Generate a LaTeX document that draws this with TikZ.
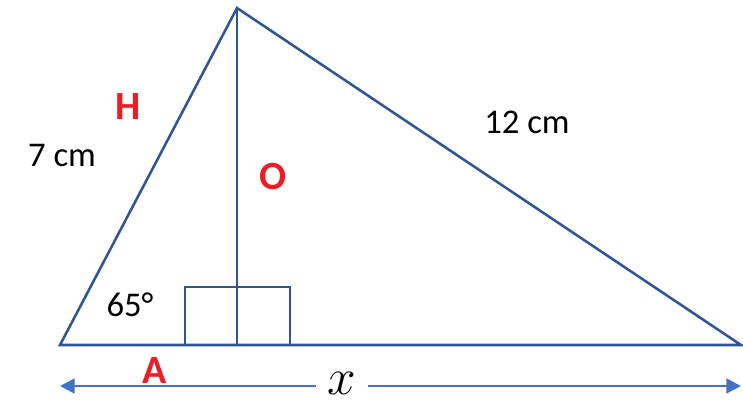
\documentclass[tikz,border=0pt]{standalone}
\usepackage{fontspec}
\setmainfont{Carlito}
\usetikzlibrary{arrows.meta}
\definecolor{edgeblue}{HTML}{2F5597}
\definecolor{arrowblue}{HTML}{4472C4}
\definecolor{labelred}{HTML}{EE1C25}
\tikzset{
  side/.style={draw=edgeblue,line width=1.9pt,line join=miter},
  dimarrow/.style={draw=arrowblue,line width=2.1pt,-{Triangle[length=11pt,width=11pt]}},
  measure/.style={font=\fontsize{26}{30}\selectfont},
  letter/.style={text=labelred,font=\fontsize{30}{34}\selectfont\bfseries}
}
\begin{document}
\begin{tikzpicture}[x=0.75pt,y=-0.75pt]
\useasboundingbox (0,0) rectangle (743,401);
% corners of the triangle
\coordinate (B) at (60,345);
\coordinate (T) at (237,8);
\coordinate (C) at (741,345);
\coordinate (F) at (237,345);
\draw[side] (B) -- (T) -- (C) -- cycle;
\draw[side] (T) -- (F);
% right angle marks
\draw[side] (185,345) rectangle (290,287);
% labels
\node[letter] (hyp) at (128,107) {H};
\node[letter] (opp) at (273,177) {O};
\node[letter] (adj) at (155,371) {A};
\node[measure] (seven) at (62,155) {7 cm};
\node[measure] (twelve) at (527,122) {12 cm};
\node[measure] (angle) at (130,305) {65°};
% base length
\node[inner sep=0pt] (xlab) at (342,383) {\scalebox{1.55}{\fontsize{24}{28}\selectfont$x$}};
\coordinate (leftend) at (60,386);
\coordinate (rightend) at (741,386);
\draw[dimarrow] (316,386) -- (leftend);
\draw[dimarrow] (368,386) -- (rightend);
\end{tikzpicture}
\end{document}
